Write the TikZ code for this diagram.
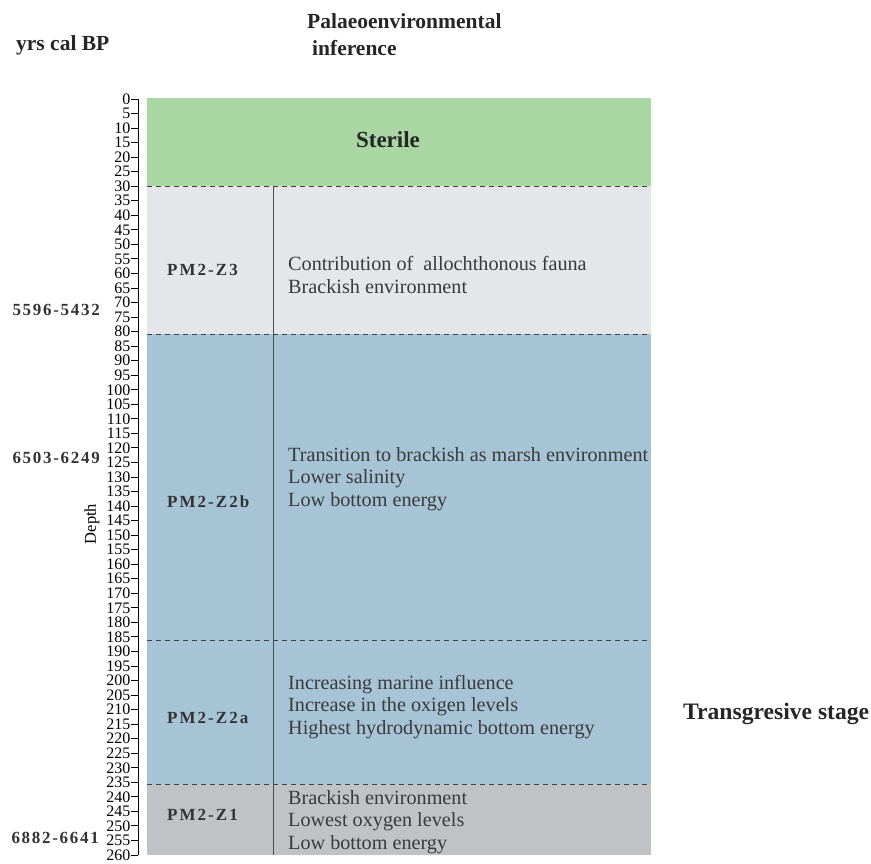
\documentclass[tikz,border=0pt]{standalone}
\usepackage{fontspec}
\setmainfont{Liberation Serif}
\definecolor{sterilegreen}{HTML}{A9D6A3}
\definecolor{zonegrey}{HTML}{E5E6EA}
\definecolor{zoneblue}{HTML}{A6C4D5}
\definecolor{zonedark}{HTML}{C1C2C6}
\definecolor{inktext}{HTML}{3A3A3A}
\begin{document}
\begin{tikzpicture}[x=1pt,y=-1pt,
  tick/.style={anchor=east, inner sep=0.5pt, font=\fontsize{16}{16}\selectfont},
  head/.style={anchor=base west, inner sep=0pt, font=\fontsize{21.5}{21.5}\selectfont\bfseries, text=black!85},
  agelab/.style={anchor=east, inner sep=0pt, font=\fontsize{17}{17}\selectfont\bfseries\addfontfeature{LetterSpace=10}, text=black!80},
  zonelab/.style={anchor=west, inner sep=0pt, font=\fontsize{17}{17}\selectfont\bfseries\addfontfeature{LetterSpace=12}, text=black!80},
  inference/.style={anchor=west, inner sep=0pt, align=left, font=\fontsize{20.2}{22.6}\selectfont, text=inktext},
  zoneline/.style={dashed, dash pattern=on 5pt off 4pt, line width=0.9pt, black!75},
  divider/.style={line width=0.9pt, black!70}]
\useasboundingbox (0,0) rectangle (871,863);
\coordinate (boxtl) at (147,98);
\coordinate (boxbr) at (651,855);
\coordinate (b30) at (147,186);
\coordinate (b80) at (147,334);
\coordinate (b185) at (147,640);
\coordinate (b235) at (147,784);
\fill[sterilegreen] (boxtl) rectangle (b30 -| boxbr);
\fill[zonegrey] (b30) rectangle (b80 -| boxbr);
\fill[zoneblue] (b80) rectangle (b235 -| boxbr);
\fill[zonedark] (b235) rectangle (boxbr);
\draw[zoneline] (b30) -- (b30 -| boxbr);
\draw[zoneline] (b80) -- (b80 -| boxbr);
\draw[zoneline] (b185) -- (b185 -| boxbr);
\draw[zoneline] (b235) -- (b235 -| boxbr);
\coordinate (divtop) at (273,186);
\coordinate (divbot) at (273,855);
\draw[divider] (divtop) -- (divbot);
\coordinate (axtop) at (138,99);
\coordinate (axbot) at (138,855);
\draw[line width=0.9pt] (axtop) -- (axbot);
\foreach \d in {0,5,...,260}{
  \node[tick] (t\d) at (131,{99+2.9077*\d}) {\d};
  \draw[line width=0.9pt] (t\d.east) -- (t\d.east -| axtop);
}
\node[rotate=90, inner sep=0pt, font=\fontsize{16.5}{16.5}\selectfont] (depth) at (92,524) {Depth};
\node[head] (yrs) at (16,50) {yrs cal BP};
\node[head] (pal) at (307,28) {Palaeoenvironmental};
\node[head] (inf) at (312,55) {inference};
\node[font=\fontsize{23}{23}\selectfont\bfseries, text=black!85] (sterile) at (388,140) {Sterile};
\node[zonelab] (z3) at (167,270) {PM2-Z3};
\node[zonelab] (z2b) at (167,502) {PM2-Z2b};
\node[zonelab] (z2a) at (167,718) {PM2-Z2a};
\node[zonelab] (z1) at (167,815) {PM2-Z1};
\node[agelab] (age3) at (100,310) {5596-5432};
\node[agelab] (age2b) at (100,458) {6503-6249};
\node[agelab] (age1) at (99,838) {6882-6641};
\node[inference] (inf3) at (288,275) {Contribution of\ \ allochthonous fauna\\Brackish environment};
\node[inference] (inf2b) at (288,479) {Transition to brackish as marsh environment\\Lower salinity\\Low bottom energy};
\node[inference] (inf2a) at (288,707) {Increasing marine influence\\Increase in the oxigen levels\\Highest hydrodynamic bottom energy};
\node[inference] (inf1) at (288,822) {Brackish environment\\Lowest oxygen levels\\Low bottom energy};
\node[head, font=\fontsize{23.6}{23.6}\selectfont\bfseries] (stage) at (683,719) {Transgresive stage};
\end{tikzpicture}
\end{document}
